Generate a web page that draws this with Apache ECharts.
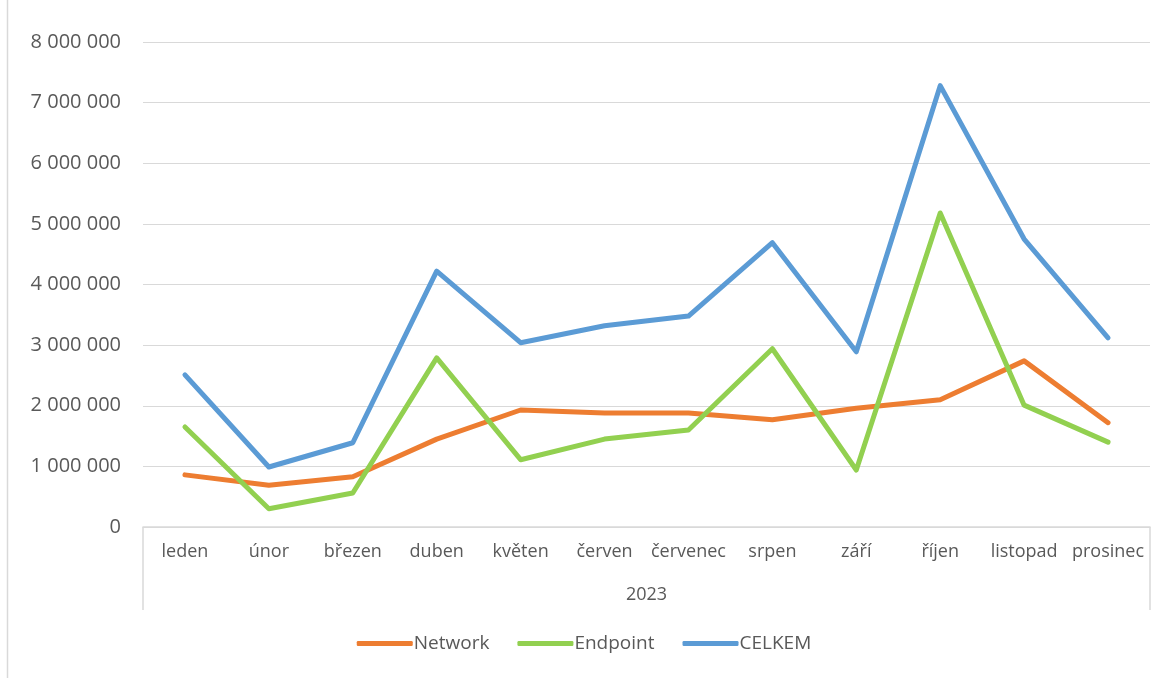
<!DOCTYPE html>
<html>
<head>
<meta charset="utf-8">
<script src="https://cdn.jsdelivr.net/npm/echarts@6/dist/echarts.min.js"></script>
<style>
  html, body { margin: 0; padding: 0; background: #fff; }
  #chart { width: 1168px; height: 678px; }
</style>
</head>
<body>
<div id="chart"></div>
<script>
// data
const months = ['leden', 'únor', 'březen', 'duben', 'květen', 'červen', 'červenec', 'srpen', 'září', 'říjen', 'listopad', 'prosinec'];
const yearLabel = ['2023'];
const network = [860000, 690000, 830000, 1450000, 1930000, 1880000, 1880000, 1770000, 1960000, 2100000, 2740000, 1720000];
const endpoint = [1650000, 300000, 560000, 2790000, 1110000, 1450000, 1600000, 2940000, 940000, 5180000, 2010000, 1400000];
const celkem = [2510000, 990000, 1390000, 4220000, 3040000, 3320000, 3480000, 4690000, 2890000, 7280000, 4750000, 3120000];

const font = '"Open Sans", "Noto Sans", sans-serif';
const textColor = '#595959';

const chart = echarts.init(document.getElementById('chart'));

function lineSeries(name, color, data) {
  return {
    name: name,
    type: 'line',
    data: data,
    showSymbol: false,
    symbol: 'none',
    lineStyle: { color: color, width: 5, cap: 'round', join: 'round' },
    itemStyle: { color: color },
    animation: false
  };
}

chart.setOption({
  animation: false,
  textStyle: { fontFamily: font },
  grid: { left: 143, right: 18, top: 42, bottom: 151 },
  legend: {
    bottom: 20,
    left: 'center',
    itemWidth: 56,
    itemHeight: 5,
    itemGap: 28,
    icon: 'roundRect',
    textStyle: { color: textColor, fontSize: 19, fontFamily: font, padding: [0, 0, 0, -4] },
    data: ['Network', 'Endpoint', 'CELKEM']
  },
  xAxis: [
    {
      type: 'category',
      data: months,
      boundaryGap: true,
      axisLine: { show: true, lineStyle: { color: '#d9d9d9', width: 1.5 } },
      axisTick: { show: false },
      axisLabel: { color: textColor, fontSize: 18, margin: 16, interval: 0, fontFamily: font }
    },
    {
      type: 'category',
      data: yearLabel,
      position: 'bottom',
      boundaryGap: true,
      axisLine: { show: false },
      axisTick: { show: true, length: 83, lineStyle: { color: '#d9d9d9', width: 1.5 } },
      axisLabel: { color: textColor, fontSize: 18, margin: 59, fontFamily: font }
    }
  ],
  yAxis: {
    type: 'value',
    min: 0,
    max: 8000000,
    interval: 1000000,
    axisLine: { show: false },
    axisTick: { show: false },
    splitLine: { lineStyle: { color: '#d9d9d9', width: 1.2 } },
    axisLabel: {
      color: textColor,
      fontSize: 20,
      margin: 22,
      fontFamily: font,
      formatter: function (v) {
        return String(v).replace(/\B(?=(\d{3})+(?!\d))/g, ' ');
      }
    }
  },
  graphic: [
    {
      type: 'line',
      shape: { x1: 7.5, y1: 0, x2: 7.5, y2: 678 },
      style: { stroke: '#d9d9d9', lineWidth: 1.5 },
      silent: true
    }
  ],
  series: [
    lineSeries('Network', '#ED7D31', network),
    lineSeries('Endpoint', '#92D050', endpoint),
    lineSeries('CELKEM', '#5B9BD5', celkem)
  ]
});
</script>
</body>
</html>
